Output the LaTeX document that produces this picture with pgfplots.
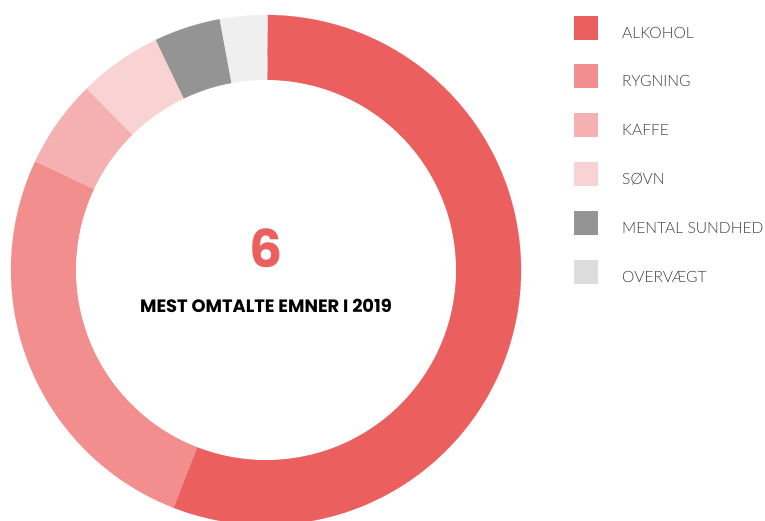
\documentclass[border=0pt]{standalone}
\usepackage{pgfplots}
\pgfplotsset{compat=1.18}
\usepackage{fontspec}
\setmainfont{Lato}
\newfontfamily\legfont{Lato}[UprightFont=* Light]
\newfontfamily\boldfont{Poppins}[UprightFont=* Bold]
\definecolor{cA}{HTML}{EB5F5F}
\definecolor{cB}{HTML}{F28E8E}
\definecolor{cC}{HTML}{F5B1B1}
\definecolor{cD}{HTML}{F9D3D3}
\definecolor{cE}{HTML}{949494}
\definecolor{cF}{HTML}{EFEFEF}
\definecolor{cFl}{HTML}{DDDDDD}
\definecolor{txt}{HTML}{404040}
% shares in percent, clockwise from the top
\def\vA{55.9}\def\vB{26.1}\def\vC{5.6}\def\vD{5.3}\def\vE{4.2}\def\vF{3.0}
\pgfmathsetmacro\aA{0}
\pgfmathsetmacro\aB{\aA+3.6*\vA}
\pgfmathsetmacro\aC{\aB+3.6*\vB}
\pgfmathsetmacro\aD{\aC+3.6*\vC}
\pgfmathsetmacro\aE{\aD+3.6*\vD}
\pgfmathsetmacro\aF{\aE+3.6*\vE}
\pgfmathsetmacro\aG{\aF+3.6*\vF}
\begin{document}
\begin{tikzpicture}
\begin{axis}[
  x=1pt, y=1pt,
  xmin=-266, xmax=499, ymin=-250, ymax=270,
  axis line style={draw=none}, ticks=none,
  clip=true, clip bounding box=upper bound,
  legend style={draw=none, fill=none, inner sep=0pt, at={(axis cs:308,254.5)}, anchor=north west,
    row sep=24.8pt, column sep=24pt, font=\legfont\fontsize{15.6}{15.6}\selectfont, text=txt,
    nodes={inner sep=0pt}},
  legend cell align=left,
  legend image code/.code={\fill[#1, draw=none] (0pt,-6.5pt) rectangle (24pt,17.5pt);},
]
\addplot[fill=cA, draw=cA, line width=0.2pt, domain=\aA:\aB, samples=120, variable=\t, forget plot] ({255*sin(t)},{255*cos(t)}) -- (axis cs:0,0) -- cycle;
\addplot[fill=cB, draw=cB, line width=0.2pt, domain=\aB:\aC, samples=60, variable=\t, forget plot] ({255*sin(t)},{255*cos(t)}) -- (axis cs:0,0) -- cycle;
\addplot[fill=cC, draw=cC, line width=0.2pt, domain=\aC:\aD, samples=20, variable=\t, forget plot] ({255*sin(t)},{255*cos(t)}) -- (axis cs:0,0) -- cycle;
\addplot[fill=cD, draw=cD, line width=0.2pt, domain=\aD:\aE, samples=20, variable=\t, forget plot] ({255*sin(t)},{255*cos(t)}) -- (axis cs:0,0) -- cycle;
\addplot[fill=cE, draw=cE, line width=0.2pt, domain=\aE:\aF, samples=20, variable=\t, forget plot] ({255*sin(t)},{255*cos(t)}) -- (axis cs:0,0) -- cycle;
\addplot[fill=cF, draw=cF, line width=0.2pt, domain=\aF:\aG, samples=20, variable=\t, forget plot] ({255*sin(t)},{255*cos(t)}) -- (axis cs:0,0) -- cycle;
\addplot[fill=white, draw=none, domain=0:360, samples=200, variable=\t, forget plot] ({190*sin(t)},{190*cos(t)}) -- cycle;
\addlegendimage{fill=cA}\addlegendentry{ALKOHOL}
\addlegendimage{fill=cB}\addlegendentry{RYGNING}
\addlegendimage{fill=cC}\addlegendentry{KAFFE}
\addlegendimage{fill=cD}\addlegendentry{SØVN}
\addlegendimage{fill=cE}\addlegendentry{MENTAL SUNDHED}
\addlegendimage{fill=cFl}\addlegendentry{OVERVÆGT}
\node[anchor=base, inner sep=0pt, text=cA, font=\boldfont\fontsize{52}{52}\selectfont] at (axis cs:0,3) {6};
\node[anchor=base, inner sep=0pt, text=black, font=\boldfont\fontsize{17.9}{17.9}\selectfont] at (axis cs:0,-42) {MEST OMTALTE EMNER I 2019};
\end{axis}
\end{tikzpicture}
\end{document}
